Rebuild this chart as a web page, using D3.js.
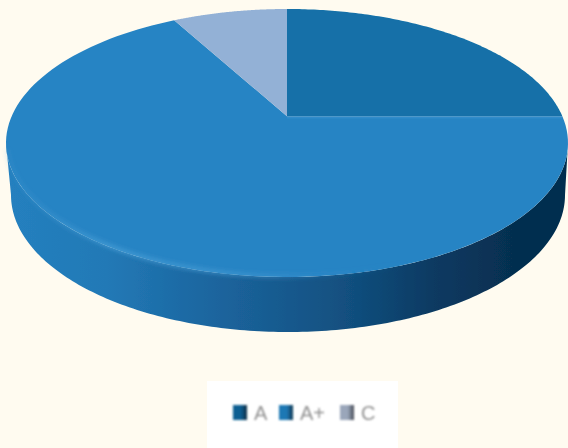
<!DOCTYPE html>
<html>
<head>
<meta charset="utf-8">
<script src="https://cdn.jsdelivr.net/npm/d3@7"></script>
<style>
html, body { margin: 0; padding: 0; background: #fffbf0; }
svg { display: block; }
</style>
</head>
<body>
<svg id="chart" width="568" height="448"></svg>
<script>
const categories = ['A', 'A+', 'C'];
const values = [25, 67, 8];
const sliceColors = ['#1270a8', '#2784c4', '#93b1d6'];
const swatchColors = ['#0f5f92', '#1f78b4', '#9aa6ba'];

// Disc geometry, the centre of the pie sits above the middle of the ellipse
const tilt = -0.2;
const xTop = d3.scaleLinear().domain([-1, 1]).range([6, 568]);
const yTop = d3.scaleLinear().domain([-1, 1]).range([9, 277]);
const xBottom = d3.scaleLinear().domain([-1, 1]).range([11, 565]);
const yBottom = d3.scaleLinear().domain([-1, 1]).range([58, 332]);

function project(angle) {
    const u = Math.sin(angle);
    const v = -Math.cos(angle);
    const w = 1 + tilt * v;
    return [u * Math.sqrt(1 - tilt * tilt) / w, (v + tilt) / w];
}

const onTop = d3.line().x(d => xTop(d[0])).y(d => yTop(d[1]));
const edgeRange = (a, b) => d3.range(0, 121).map(i => a + (b - a) * i / 120);

const svg = d3.select('#chart');
const defs = svg.append('defs');

function blur(id, amount) {
    defs.append('filter').attr('id', id)
        .attr('x', '-10%').attr('y', '-20%').attr('width', '120%').attr('height', '140%')
        .append('feGaussianBlur').attr('stdDeviation', amount);
}
blur('soft', 0.7);
blur('softer', 2);
blur('legendBlur', 1);

const sideGrad = defs.append('linearGradient').attr('id', 'sideGrad')
    .attr('gradientUnits', 'userSpaceOnUse')
    .attr('x1', 6).attr('x2', 568).attr('y1', 0).attr('y2', 0);
[[0, '#2580bf'], [0.18, '#2279b6'], [0.34, '#1c68a2'], [0.48, '#185b90'],
 [0.62, '#114e7d'], [0.76, '#0a3a62'], [0.9, '#062f50'], [1, '#062f50']].forEach(s => {
    sideGrad.append('stop').attr('offset', s[0]).attr('stop-color', s[1]);
});

const rimGrad = defs.append('linearGradient').attr('id', 'rimGrad')
    .attr('gradientUnits', 'userSpaceOnUse')
    .attr('x1', 6).attr('x2', 568).attr('y1', 0).attr('y2', 0);
[[0, '#3f98d2', 0.2], [0.18, '#4ca2d9', 0.8], [0.4, '#4a9ed6', 0.7], [0.58, '#3a92cf', 0.2], [0.72, '#2784c4', 0]].forEach(s => {
    rimGrad.append('stop').attr('offset', s[0]).attr('stop-color', s[1]).attr('stop-opacity', s[2]);
});

categories.forEach((c, i) => {
    const g = defs.append('linearGradient').attr('id', 'swatch' + i)
        .attr('x1', 0).attr('x2', 1).attr('y1', 0).attr('y2', 0);
    g.append('stop').attr('offset', 0).attr('stop-color', swatchColors[i]);
    g.append('stop').attr('offset', 0.55).attr('stop-color', swatchColors[i]);
    g.append('stop').attr('offset', 1).attr('stop-color', d3.color(swatchColors[i]).darker(2.2));
});

const pie = d3.pie().sort(null);
const slices = pie(values);

const disc = svg.append('g').attr('filter', 'url(#soft)');

// Side wall, top front edge joined to the lower ellipse
const wallPoints = d3.range(0, 181).map(d => {
    const a = Math.PI * d / 180;
    return [xTop(Math.cos(a)), yTop(Math.sin(a))];
}).concat(d3.range(180, -1, -1).map(d => {
    const a = Math.PI * d / 180;
    return [xBottom(Math.cos(a)), yBottom(Math.sin(a))];
}));
disc.append('path')
    .attr('d', d3.line()(wallPoints) + 'Z')
    .attr('fill', 'url(#sideGrad)');

// Top face
disc.selectAll('path.slice')
    .data(slices)
    .enter()
    .append('path')
    .attr('class', 'slice')
    .attr('d', d => onTop([[0, tilt]].concat(edgeRange(d.startAngle, d.endAngle).map(project))) + 'Z')
    .attr('fill', (d, i) => sliceColors[i]);

// Bevel along the front edge of the top face
disc.append('path')
    .attr('d', d3.line()(d3.range(3, 178).map(d => {
        const a = Math.PI * d / 180;
        return [xTop(Math.cos(a) * 0.997), yTop(Math.sin(a) * 0.995)];
    })))
    .attr('fill', 'none')
    .attr('stroke', 'url(#rimGrad)')
    .attr('stroke-width', 3.5)
    .attr('filter', 'url(#softer)');

// Thin light line under the boundary of the first slice
const boundary = project(slices[0].endAngle);
disc.append('line')
    .attr('x1', xTop(0)).attr('y1', yTop(tilt) + 1.5)
    .attr('x2', xTop(boundary[0])).attr('y2', yTop(boundary[1]) + 1.5)
    .attr('stroke', '#3a93d0')
    .attr('stroke-width', 1.5)
    .attr('opacity', 0.5);

// Legend
const legendX = d3.scaleOrdinal().domain(categories).range([233, 279, 340]);

svg.append('rect')
    .attr('x', 207).attr('y', 381)
    .attr('width', 191).attr('height', 67)
    .attr('fill', '#ffffff');

const legend = svg.append('g').attr('filter', 'url(#legendBlur)');
const items = legend.selectAll('g')
    .data(categories)
    .enter()
    .append('g')
    .attr('transform', d => `translate(${legendX(d)},405)`);
items.append('rect')
    .attr('width', 14).attr('height', 15)
    .attr('fill', (d, i) => `url(#swatch${i})`);
items.append('text')
    .attr('x', 21).attr('y', 15)
    .attr('font-family', 'Liberation Sans, sans-serif')
    .attr('font-size', 20)
    .attr('fill', '#909090')
    .text(d => d);
</script>
</body>
</html>
